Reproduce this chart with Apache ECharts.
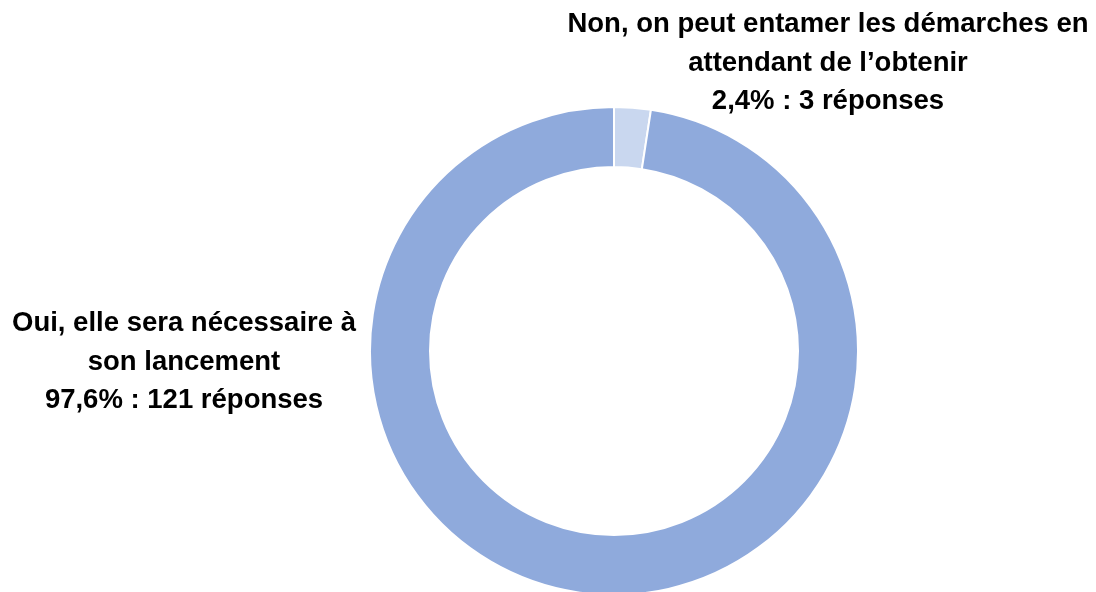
<!DOCTYPE html>
<html><head><meta charset="utf-8">
<script src="https://cdn.jsdelivr.net/npm/echarts@6/dist/echarts.min.js"></script>
<style>html,body{margin:0;padding:0;background:#fff}#c{width:1096px;height:592px}</style>
</head><body><div id="c"></div>
<script>
var categories = ["Non, on peut entamer les démarches en\nattendant de l’obtenir", "Oui, elle sera nécessaire à\nson lancement"];
var values = [3, 121];
var colors = ["#C9D7EF", "#8FAADC"];
var labelPos = [[828, 63], [184, 362]];
var total = values.reduce(function(a,b){return a+b;},0);
var chart = echarts.init(document.getElementById('c'));
chart.setOption({
  animation: false,
  series: [{
    type: 'pie',
    center: [614, 351],
    radius: [184, 244],
    startAngle: 90,
    clockwise: true,
    avoidLabelOverlap: false,
    itemStyle: {borderColor: '#fff', borderWidth: 2},
    label: {
      show: true,
      position: 'outside',
      fontFamily: 'Liberation Sans, Arial, sans-serif',
      fontWeight: 'bold',
      fontSize: 27.5,
      lineHeight: 38.5,
      color: '#000',
      align: 'center',
      formatter: function(p){
        var pct = (p.value / total * 100).toFixed(1).replace('.', ',');
        return p.name + '\n' + pct + '% : ' + p.value + ' réponses';
      }
    },
    labelLine: {show: false},
    labelLayout: function(params){
      var pos = labelPos[params.dataIndex];
      return {x: pos[0], y: pos[1], align: 'center', verticalAlign: 'middle'};
    },
    data: categories.map(function(n,i){return {name:n, value: values[i], itemStyle:{color: colors[i]}};})
  }]
});
</script></body></html>
